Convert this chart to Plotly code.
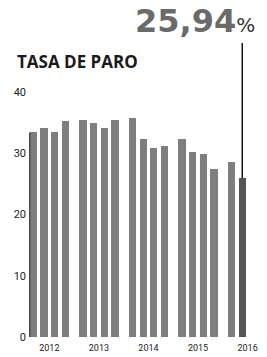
import plotly.graph_objects as go

years = ["2012", "2013", "2014", "2015", "2016"]
quarters_per_year = [4, 4, 4, 4, 2]
values = [33.4, 34.1, 33.5, 35.2,
          35.5, 35.0, 34.2, 35.4,
          35.7, 32.3, 30.8, 31.2,
          32.4, 30.2, 29.9, 27.5,
          28.6, 25.94]
y_ticks = [0, 10, 20, 30, 40]
Y_MAX = 40

GAP = 0.65
xs, tickvals = [], []
k = 0
for g, n in enumerate(quarters_per_year):
    start = k + GAP * g
    tickvals.append(start + 1.5)
    for q in range(n):
        xs.append(k + GAP * g)
        k += 1
colors = ["#7e7e7e"] * (len(values) - 1) + ["#555555"]

fig = go.Figure()
fig.add_trace(go.Bar(x=xs, y=values, marker=dict(color=colors, line=dict(width=0)),
                     width=0.68, hoverinfo="skip"))
# axis line along first bar
fig.add_trace(go.Scatter(x=[xs[0] - 0.34, xs[0] - 0.34], y=[0, values[0]], mode="lines",
                         line=dict(color="#333333", width=1.2), hoverinfo="skip"))

fig.add_shape(type="line", xref="x", yref="paper", x0=xs[-1], x1=xs[-1],
              y0=values[-1] / Y_MAX, y1=1.2, line=dict(color="#111111", width=1.5))

label = f"{values[-1]:.2f}".replace(".", ",")
fig.add_annotation(xref="paper", yref="paper", x=1.036, y=1.29, xanchor="right", yanchor="middle",
                   text=f"<b>{label}</b><span style='font-size:20px;color:#333'>%</span>",
                   showarrow=False, font=dict(size=32, color="#6a6a6a", family="DejaVu Sans"))
fig.add_annotation(xref="paper", yref="paper", x=-0.06, y=1.125, xanchor="left", yanchor="middle",
                   text="<b>TASA DE PARO</b>", showarrow=False,
                   font=dict(size=17, color="#1a1a1a", family="Open Sans, DejaVu Sans"))

font_c = "Roboto, Liberation Sans Narrow, sans-serif"
fig.update_layout(
    width=267, height=357,
    margin=dict(l=28, r=18, t=92, b=20),
    paper_bgcolor="white", plot_bgcolor="white",
    showlegend=False, bargap=0,
    xaxis=dict(range=[-0.5, 20.23], tickvals=tickvals, ticktext=years, showgrid=False, automargin=False,
               zeroline=False, showline=False, ticks="", ticklabelstandoff=4,
               tickfont=dict(size=9, color="#222", family=font_c)),
    yaxis=dict(range=[0, Y_MAX], tickvals=y_ticks, showgrid=False, zeroline=False, showline=False,
               automargin=False, ticks="", ticklabelstandoff=1,
               tickfont=dict(size=11, color="#222", family=font_c)),
)
fig.write_html("out.html", config={"displayModeBar": False},
               post_script="document.body.style.margin='0';")
